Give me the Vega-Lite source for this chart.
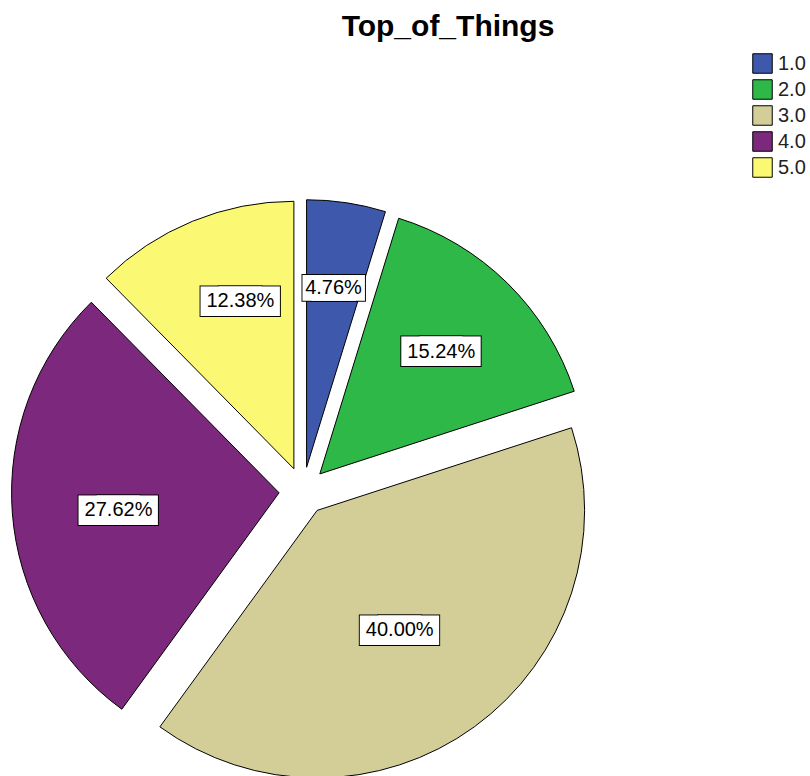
{
  "$schema": "https://vega.github.io/schema/vega-lite/v6.json",
  "autosize": {"type": "none"},
  "padding": {"top": 206, "left": 0, "right": 204, "bottom": 0},
  "width": 606,
  "height": 570,
  "background": "#ffffff",
  "title": {"text": "Top_of_Things", "font": "Liberation Sans", "fontSize": 30, "fontWeight": "bold", "anchor": "middle", "frame": "group", "dx": 145, "baseline": "alphabetic", "offset": -13, "color": "#000000"},
  "data": {"values": [
    {"cat": "1.0", "n": 5, "label": "4.76%"},
    {"cat": "2.0", "n": 16, "label": "15.24%"},
    {"cat": "3.0", "n": 42, "label": "40.00%"},
    {"cat": "4.0", "n": 29, "label": "27.62%"},
    {"cat": "5.0", "n": 13, "label": "12.38%"}
  ]},
  "config": {"view": {"stroke": null}},
  "layer": [
    {
      "transform": [{"stack": "n", "groupby": [], "as": ["v0", "v1"], "sort": [{"field": "cat", "order": "ascending"}]}, {"filter": "datum.cat == '1.0'"}],
      "mark": {"type": "arc", "outerRadius": 267.5, "stroke": "#000000", "strokeWidth": 1, "xOffset": 3.58, "yOffset": -23.73},
      "encoding": {
        "theta": {"field": "v0", "type": "quantitative", "scale": {"domain": [0, 105]}},
        "theta2": {"field": "v1"},
        "color": {"field": "cat", "type": "nominal", "scale": {"domain": ["1.0", "2.0", "3.0", "4.0", "5.0"], "range": ["#3e58ac", "#2eb848", "#d3ce97", "#7c287d", "#fbf873"]},
          "legend": {"orient": "none", "legendX": 752, "legendY": -153, "title": null, "symbolType": "square", "symbolSize": 380, "symbolStrokeColor": "#000000", "symbolStrokeWidth": 1, "symbolOpacity": 1, "labelFont": "Liberation Sans", "labelFontSize": 20, "labelColor": "#222222", "labelOffset": 5, "rowPadding": 1}}
      }
    },
    {
      "transform": [{"stack": "n", "groupby": [], "as": ["v0", "v1"], "sort": [{"field": "cat", "order": "ascending"}]}, {"filter": "datum.cat == '2.0'"}],
      "mark": {"type": "arc", "outerRadius": 267.5, "stroke": "#000000", "strokeWidth": 1, "xOffset": 16.84, "yOffset": -17.10},
      "encoding": {"theta": {"field": "v0", "type": "quantitative"}, "theta2": {"field": "v1"}, "color": {"field": "cat", "type": "nominal"}}
    },
    {
      "transform": [{"stack": "n", "groupby": [], "as": ["v0", "v1"], "sort": [{"field": "cat", "order": "ascending"}]}, {"filter": "datum.cat == '3.0'"}],
      "mark": {"type": "arc", "outerRadius": 267.5, "stroke": "#000000", "strokeWidth": 1, "xOffset": 14.11, "yOffset": 19.42},
      "encoding": {"theta": {"field": "v0", "type": "quantitative"}, "theta2": {"field": "v1"}, "color": {"field": "cat", "type": "nominal"}}
    },
    {
      "transform": [{"stack": "n", "groupby": [], "as": ["v0", "v1"], "sort": [{"field": "cat", "order": "ascending"}]}, {"filter": "datum.cat == '4.0'"}],
      "mark": {"type": "arc", "outerRadius": 267.5, "stroke": "#000000", "strokeWidth": 1, "xOffset": -23.93, "yOffset": 1.79},
      "encoding": {"theta": {"field": "v0", "type": "quantitative"}, "theta2": {"field": "v1"}, "color": {"field": "cat", "type": "nominal"}}
    },
    {
      "transform": [{"stack": "n", "groupby": [], "as": ["v0", "v1"], "sort": [{"field": "cat", "order": "ascending"}]}, {"filter": "datum.cat == '5.0'"}],
      "mark": {"type": "arc", "outerRadius": 267.5, "stroke": "#000000", "strokeWidth": 1, "xOffset": -9.10, "yOffset": -22.21},
      "encoding": {"theta": {"field": "v0", "type": "quantitative"}, "theta2": {"field": "v1"}, "color": {"field": "cat", "type": "nominal"}}
    },

    {"mark": {"type": "text", "radius": 205, "font": "DejaVu Sans", "fontSize": 70, "fill": "#ffffff", "stroke": "#000000", "strokeWidth": 2, "baseline": "middle", "align": "center", "dx": -4.4, "dy": -2.8},
     "encoding": {"theta": {"field": "n", "type": "quantitative", "stack": true}, "order": {"field": "cat"}, "text": {"condition": {"test": "datum.cat == '1.0'", "value": "▬"}, "value": ""}}},
    {"mark": {"type": "text", "radius": 205, "font": "DejaVu Sans", "fontSize": 70, "fill": "#ffffff", "stroke": "#000000", "strokeWidth": 2, "baseline": "middle", "align": "center", "dx": 4.4, "dy": -2.8},
     "encoding": {"theta": {"field": "n", "type": "quantitative", "stack": true}, "order": {"field": "cat"}, "text": {"condition": {"test": "datum.cat == '1.0'", "value": "▬"}, "value": ""}}},
    {"mark": {"type": "text", "radius": 205, "font": "DejaVu Sans", "fontSize": 70, "fill": "#ffffff", "strokeWidth": 0, "baseline": "middle", "align": "center", "dx": -4.4, "dy": -2.8},
     "encoding": {"theta": {"field": "n", "type": "quantitative", "stack": true}, "order": {"field": "cat"}, "text": {"condition": {"test": "datum.cat == '1.0'", "value": "▬"}, "value": ""}}},
    {"mark": {"type": "text", "radius": 205, "font": "DejaVu Sans", "fontSize": 70, "fill": "#ffffff", "strokeWidth": 0, "baseline": "middle", "align": "center", "dx": 4.4, "dy": -2.8},
     "encoding": {"theta": {"field": "n", "type": "quantitative", "stack": true}, "order": {"field": "cat"}, "text": {"condition": {"test": "datum.cat == '1.0'", "value": "▬"}, "value": ""}}},
    {"mark": {"type": "text", "radius": 205, "font": "Liberation Sans", "fontSize": 20, "fill": "#000000", "baseline": "middle", "align": "center"},
     "encoding": {"theta": {"field": "n", "type": "quantitative", "stack": true}, "order": {"field": "cat"}, "text": {"condition": {"test": "datum.cat == '1.0'", "field": "label"}, "value": ""}}},

    {"mark": {"type": "text", "radius": 197, "font": "DejaVu Sans", "fontSize": 80, "fill": "#ffffff", "stroke": "#000000", "strokeWidth": 2, "baseline": "middle", "align": "center", "dx": -9.1, "dy": -2.2},
     "encoding": {"theta": {"field": "n", "type": "quantitative", "stack": true}, "order": {"field": "cat"}, "text": {"condition": {"test": "datum.cat == '2.0'", "value": "▬"}, "value": ""}}},
    {"mark": {"type": "text", "radius": 197, "font": "DejaVu Sans", "fontSize": 80, "fill": "#ffffff", "stroke": "#000000", "strokeWidth": 2, "baseline": "middle", "align": "center", "dx": 9.1, "dy": -2.2},
     "encoding": {"theta": {"field": "n", "type": "quantitative", "stack": true}, "order": {"field": "cat"}, "text": {"condition": {"test": "datum.cat == '2.0'", "value": "▬"}, "value": ""}}},
    {"mark": {"type": "text", "radius": 197, "font": "DejaVu Sans", "fontSize": 80, "fill": "#ffffff", "strokeWidth": 0, "baseline": "middle", "align": "center", "dx": -9.1, "dy": -2.2},
     "encoding": {"theta": {"field": "n", "type": "quantitative", "stack": true}, "order": {"field": "cat"}, "text": {"condition": {"test": "datum.cat == '2.0'", "value": "▬"}, "value": ""}}},
    {"mark": {"type": "text", "radius": 197, "font": "DejaVu Sans", "fontSize": 80, "fill": "#ffffff", "strokeWidth": 0, "baseline": "middle", "align": "center", "dx": 9.1, "dy": -2.2},
     "encoding": {"theta": {"field": "n", "type": "quantitative", "stack": true}, "order": {"field": "cat"}, "text": {"condition": {"test": "datum.cat == '2.0'", "value": "▬"}, "value": ""}}},
    {"mark": {"type": "text", "radius": 197, "font": "Liberation Sans", "fontSize": 20, "fill": "#000000", "baseline": "middle", "align": "center", "dy": 1},
     "encoding": {"theta": {"field": "n", "type": "quantitative", "stack": true}, "order": {"field": "cat"}, "text": {"condition": {"test": "datum.cat == '2.0'", "field": "label"}, "value": ""}}},

    {"mark": {"type": "text", "radius": 168, "font": "DejaVu Sans", "fontSize": 80, "fill": "#ffffff", "stroke": "#000000", "strokeWidth": 2, "baseline": "middle", "align": "center", "dx": -11.1, "dy": -0.2},
     "encoding": {"theta": {"field": "n", "type": "quantitative", "stack": true}, "order": {"field": "cat"}, "text": {"condition": {"test": "datum.cat == '3.0'", "value": "▬"}, "value": ""}}},
    {"mark": {"type": "text", "radius": 168, "font": "DejaVu Sans", "fontSize": 80, "fill": "#ffffff", "stroke": "#000000", "strokeWidth": 2, "baseline": "middle", "align": "center", "dx": 7.1, "dy": -0.2},
     "encoding": {"theta": {"field": "n", "type": "quantitative", "stack": true}, "order": {"field": "cat"}, "text": {"condition": {"test": "datum.cat == '3.0'", "value": "▬"}, "value": ""}}},
    {"mark": {"type": "text", "radius": 168, "font": "DejaVu Sans", "fontSize": 80, "fill": "#ffffff", "strokeWidth": 0, "baseline": "middle", "align": "center", "dx": -11.1, "dy": -0.2},
     "encoding": {"theta": {"field": "n", "type": "quantitative", "stack": true}, "order": {"field": "cat"}, "text": {"condition": {"test": "datum.cat == '3.0'", "value": "▬"}, "value": ""}}},
    {"mark": {"type": "text", "radius": 168, "font": "DejaVu Sans", "fontSize": 80, "fill": "#ffffff", "strokeWidth": 0, "baseline": "middle", "align": "center", "dx": 7.1, "dy": -0.2},
     "encoding": {"theta": {"field": "n", "type": "quantitative", "stack": true}, "order": {"field": "cat"}, "text": {"condition": {"test": "datum.cat == '3.0'", "value": "▬"}, "value": ""}}},
    {"mark": {"type": "text", "radius": 168, "font": "Liberation Sans", "fontSize": 20, "fill": "#000000", "baseline": "middle", "align": "center", "dx": -2, "dy": 3},
     "encoding": {"theta": {"field": "n", "type": "quantitative", "stack": true}, "order": {"field": "cat"}, "text": {"condition": {"test": "datum.cat == '3.0'", "field": "label"}, "value": ""}}},

    {"mark": {"type": "text", "radius": 186, "font": "DejaVu Sans", "fontSize": 80, "fill": "#ffffff", "stroke": "#000000", "strokeWidth": 2, "baseline": "middle", "align": "center", "dx": -8.1, "dy": 1.8},
     "encoding": {"theta": {"field": "n", "type": "quantitative", "stack": true}, "order": {"field": "cat"}, "text": {"condition": {"test": "datum.cat == '4.0'", "value": "▬"}, "value": ""}}},
    {"mark": {"type": "text", "radius": 186, "font": "DejaVu Sans", "fontSize": 80, "fill": "#ffffff", "stroke": "#000000", "strokeWidth": 2, "baseline": "middle", "align": "center", "dx": 10.1, "dy": 1.8},
     "encoding": {"theta": {"field": "n", "type": "quantitative", "stack": true}, "order": {"field": "cat"}, "text": {"condition": {"test": "datum.cat == '4.0'", "value": "▬"}, "value": ""}}},
    {"mark": {"type": "text", "radius": 186, "font": "DejaVu Sans", "fontSize": 80, "fill": "#ffffff", "strokeWidth": 0, "baseline": "middle", "align": "center", "dx": -8.1, "dy": 1.8},
     "encoding": {"theta": {"field": "n", "type": "quantitative", "stack": true}, "order": {"field": "cat"}, "text": {"condition": {"test": "datum.cat == '4.0'", "value": "▬"}, "value": ""}}},
    {"mark": {"type": "text", "radius": 186, "font": "DejaVu Sans", "fontSize": 80, "fill": "#ffffff", "strokeWidth": 0, "baseline": "middle", "align": "center", "dx": 10.1, "dy": 1.8},
     "encoding": {"theta": {"field": "n", "type": "quantitative", "stack": true}, "order": {"field": "cat"}, "text": {"condition": {"test": "datum.cat == '4.0'", "value": "▬"}, "value": ""}}},
    {"mark": {"type": "text", "radius": 186, "font": "Liberation Sans", "fontSize": 20, "fill": "#000000", "baseline": "middle", "align": "center", "dx": 1, "dy": 5},
     "encoding": {"theta": {"field": "n", "type": "quantitative", "stack": true}, "order": {"field": "cat"}, "text": {"condition": {"test": "datum.cat == '4.0'", "field": "label"}, "value": ""}}},

    {"mark": {"type": "text", "radius": 202, "font": "DejaVu Sans", "fontSize": 80, "fill": "#ffffff", "stroke": "#000000", "strokeWidth": 2, "baseline": "middle", "align": "center", "dx": 4.9, "dy": -6.2},
     "encoding": {"theta": {"field": "n", "type": "quantitative", "stack": true}, "order": {"field": "cat"}, "text": {"condition": {"test": "datum.cat == '5.0'", "value": "▬"}, "value": ""}}},
    {"mark": {"type": "text", "radius": 202, "font": "DejaVu Sans", "fontSize": 80, "fill": "#ffffff", "stroke": "#000000", "strokeWidth": 2, "baseline": "middle", "align": "center", "dx": 23.1, "dy": -6.2},
     "encoding": {"theta": {"field": "n", "type": "quantitative", "stack": true}, "order": {"field": "cat"}, "text": {"condition": {"test": "datum.cat == '5.0'", "value": "▬"}, "value": ""}}},
    {"mark": {"type": "text", "radius": 202, "font": "DejaVu Sans", "fontSize": 80, "fill": "#ffffff", "strokeWidth": 0, "baseline": "middle", "align": "center", "dx": 4.9, "dy": -6.2},
     "encoding": {"theta": {"field": "n", "type": "quantitative", "stack": true}, "order": {"field": "cat"}, "text": {"condition": {"test": "datum.cat == '5.0'", "value": "▬"}, "value": ""}}},
    {"mark": {"type": "text", "radius": 202, "font": "DejaVu Sans", "fontSize": 80, "fill": "#ffffff", "strokeWidth": 0, "baseline": "middle", "align": "center", "dx": 23.1, "dy": -6.2},
     "encoding": {"theta": {"field": "n", "type": "quantitative", "stack": true}, "order": {"field": "cat"}, "text": {"condition": {"test": "datum.cat == '5.0'", "value": "▬"}, "value": ""}}},
    {"mark": {"type": "text", "radius": 202, "font": "Liberation Sans", "fontSize": 20, "fill": "#000000", "baseline": "middle", "align": "center", "dx": 14, "dy": -3},
     "encoding": {"theta": {"field": "n", "type": "quantitative", "stack": true}, "order": {"field": "cat"}, "text": {"condition": {"test": "datum.cat == '5.0'", "field": "label"}, "value": ""}}}
  ]
}
